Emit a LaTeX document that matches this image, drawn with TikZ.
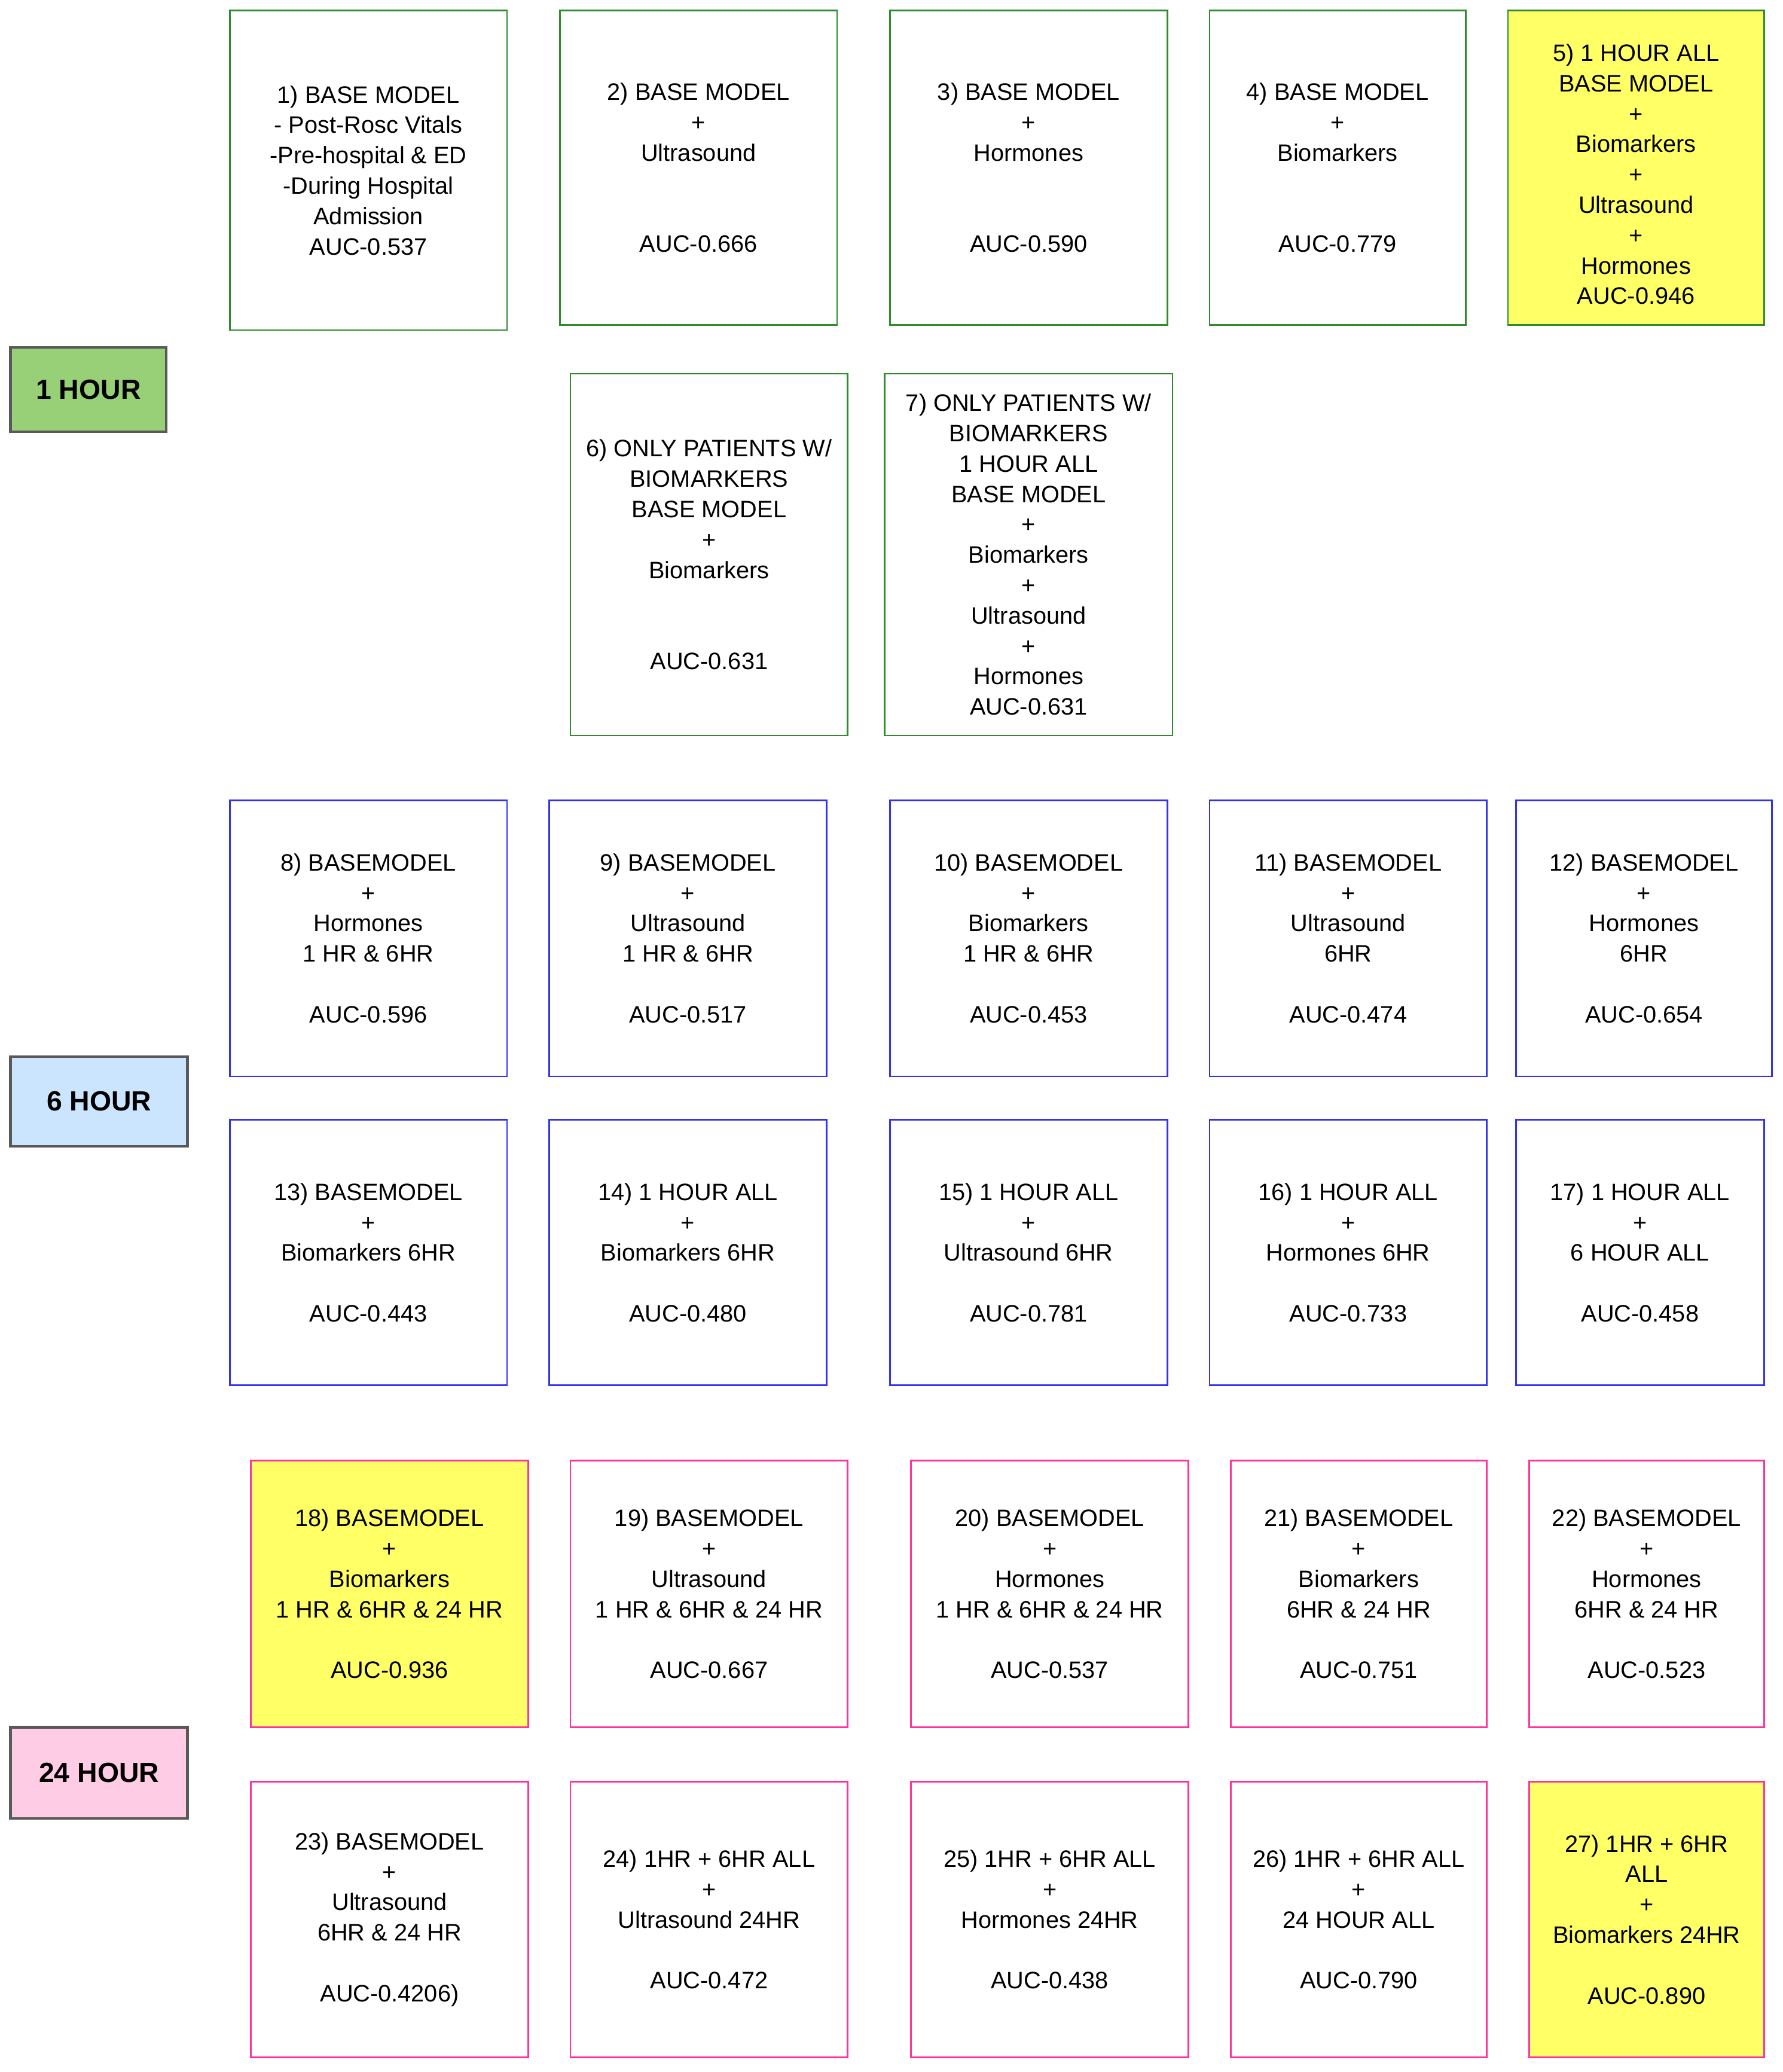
\documentclass[tikz,border=0pt]{standalone}
\usepackage{fontspec}
\setmainfont{Liberation Sans}
\definecolor{gb}{HTML}{2E8B2E}
\definecolor{bb}{HTML}{3333EE}
\definecolor{pb}{HTML}{FF3399}
\definecolor{yf}{HTML}{FFFF66}
\definecolor{lg}{HTML}{97D077}
\definecolor{lb}{HTML}{CCE5FF}
\definecolor{lp}{HTML}{FFCCE6}
\newcommand{\mybox}[7]{%
  \node[box,#6,minimum width={(#4-#2)*0.5pt},minimum height={(#5-#3)*0.5pt}] (#1) at ({(#2+#4)/2},{(#3+#5)/2}) {#7};}
\begin{document}
\begin{tikzpicture}[x=0.5pt,y=-0.5pt,
  box/.style={draw,line width=0.6pt,inner sep=0pt,align=center,font=\fontsize{9}{11.5}\selectfont},
  gbox/.style={draw=gb},
  bbox/.style={draw=bb},
  pbox/.style={draw=pb},
  ybox/.style={fill=yf},
  lab/.style={draw=black!65,line width=1pt,inner sep=0pt,font=\fontsize{10.5}{12}\selectfont\bfseries}]
\useasboundingbox (0,0) rectangle (1350,1569);
% 1 hour
\mybox{b1}{174}{8}{384}{250}{gbox}{1) BASE MODEL\\- Post-Rosc Vitals\\-Pre-hospital \& ED\\-During Hospital\\Admission\\AUC-0.537}
\mybox{b2}{424}{8}{634}{246}{gbox}{2) BASE MODEL\\+\\Ultrasound\\ \\ \\AUC-0.666}
\mybox{b3}{674}{8}{884}{246}{gbox}{3) BASE MODEL\\+\\Hormones\\ \\ \\AUC-0.590}
\mybox{b4}{916}{8}{1110}{246}{gbox}{4) BASE MODEL\\+\\Biomarkers\\ \\ \\AUC-0.779}
\mybox{b5}{1142}{8}{1336}{246}{gbox,ybox}{\mbox{}\\5) 1 HOUR ALL\\BASE MODEL\\+\\Biomarkers\\+\\Ultrasound\\+\\Hormones\\AUC-0.946}
\mybox{b6}{432}{283}{642}{557}{gbox}{6) ONLY PATIENTS W/\\BIOMARKERS\\BASE MODEL\\+\\Biomarkers\\ \\ \\AUC-0.631}
\mybox{b7}{670}{283}{888}{557}{gbox}{7) ONLY PATIENTS W/\\BIOMARKERS\\1 HOUR ALL\\BASE MODEL\\+\\Biomarkers\\+\\Ultrasound\\+\\Hormones\\AUC-0.631}
\mybox{l1}{8}{263}{126}{327}{lab,fill=lg}{1 HOUR}
% 6 hour
\mybox{b8}{174}{606}{384}{815}{bbox}{8) BASEMODEL\\+\\Hormones\\1 HR \& 6HR\\ \\AUC-0.596}
\mybox{b9}{416}{606}{626}{815}{bbox}{9) BASEMODEL\\+\\Ultrasound\\1 HR \& 6HR\\ \\AUC-0.517}
\mybox{b10}{674}{606}{884}{815}{bbox}{10) BASEMODEL\\+\\Biomarkers\\1 HR \& 6HR\\ \\AUC-0.453}
\mybox{b11}{916}{606}{1126}{815}{bbox}{11) BASEMODEL\\+\\Ultrasound\\6HR\\ \\AUC-0.474}
\mybox{b12}{1148}{606}{1342}{815}{bbox}{12) BASEMODEL\\+\\Hormones\\6HR\\ \\AUC-0.654}
\mybox{b13}{174}{848}{384}{1049}{bbox}{13) BASEMODEL\\+\\Biomarkers 6HR\\ \\AUC-0.443}
\mybox{b14}{416}{848}{626}{1049}{bbox}{14) 1 HOUR ALL\\+\\Biomarkers 6HR\\ \\AUC-0.480}
\mybox{b15}{674}{848}{884}{1049}{bbox}{15) 1 HOUR ALL\\+\\Ultrasound 6HR\\ \\AUC-0.781}
\mybox{b16}{916}{848}{1126}{1049}{bbox}{16) 1 HOUR ALL\\+\\Hormones 6HR\\ \\AUC-0.733}
\mybox{b17}{1148}{848}{1336}{1049}{bbox}{17) 1 HOUR ALL\\+\\6 HOUR ALL\\ \\AUC-0.458}
\mybox{l6}{8}{800}{142}{868}{lab,fill=lb}{6 HOUR}
% 24 hour
\mybox{b18}{190}{1106}{400}{1308}{pbox,ybox}{18) BASEMODEL\\+\\Biomarkers\\1 HR \& 6HR \& 24 HR\\ \\AUC-0.936}
\mybox{b19}{432}{1106}{642}{1308}{pbox}{19) BASEMODEL\\+\\Ultrasound\\1 HR \& 6HR \& 24 HR\\ \\AUC-0.667}
\mybox{b20}{690}{1106}{900}{1308}{pbox}{20) BASEMODEL\\+\\Hormones\\1 HR \& 6HR \& 24 HR\\ \\AUC-0.537}
\mybox{b21}{932}{1106}{1126}{1308}{pbox}{21) BASEMODEL\\+\\Biomarkers\\6HR \& 24 HR\\ \\AUC-0.751}
\mybox{b22}{1158}{1106}{1336}{1308}{pbox}{22) BASEMODEL\\+\\Hormones\\6HR \& 24 HR\\ \\AUC-0.523}
\mybox{b23}{190}{1349}{400}{1558}{pbox}{23) BASEMODEL\\+\\Ultrasound\\6HR \& 24 HR\\ \\AUC-0.4206)}
\mybox{b24}{432}{1349}{642}{1558}{pbox}{24) 1HR + 6HR ALL\\+\\Ultrasound 24HR\\ \\AUC-0.472}
\mybox{b25}{690}{1349}{900}{1558}{pbox}{25) 1HR + 6HR ALL\\+\\Hormones 24HR\\ \\AUC-0.438}
\mybox{b26}{932}{1349}{1126}{1558}{pbox}{26) 1HR + 6HR ALL\\+\\24 HOUR ALL\\ \\AUC-0.790}
\mybox{b27}{1158}{1349}{1336}{1558}{pbox,ybox}{27) 1HR + 6HR\\ALL\\+\\Biomarkers 24HR\\ \\AUC-0.890}
\mybox{l24}{8}{1308}{142}{1377}{lab,fill=lp}{24 HOUR}
\end{tikzpicture}
\end{document}
